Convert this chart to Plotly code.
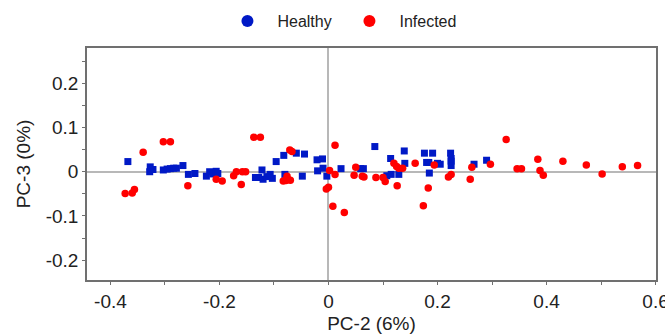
import plotly.graph_objects as go

# ---- data ----
healthy_x = [-0.368, -0.327, -0.328, -0.322, -0.303, -0.296, -0.290, -0.284, -0.279, -0.267,
             -0.257, -0.245, -0.224, -0.218, -0.212, -0.206, -0.203, -0.134, -0.128, -0.120,
             -0.122, -0.113, -0.107, -0.103, -0.096, -0.082, -0.080, -0.059, -0.044, -0.048,
             -0.021, -0.011, -0.020, -0.010, -0.003, 0.023, 0.059, 0.064, 0.085, 0.107,
             0.115, 0.114, 0.129, 0.139, 0.140, 0.176, 0.191, 0.180, 0.184, 0.185,
             0.200, 0.205, 0.224, 0.225, 0.225, 0.225, 0.267, 0.290]
healthy_y = [0.023, 0.011, 0.000, 0.005, 0.004, 0.006, 0.007, 0.008, 0.008, 0.014,
             -0.006, -0.004, -0.010, 0.000, -0.005, 0.001, -0.004, -0.013, -0.013, -0.017,
             0.004, -0.011, -0.006, -0.015, 0.023, 0.037, -0.006, 0.042, 0.040, -0.010,
             0.027, 0.029, 0.002, 0.008, -0.010, 0.007, 0.007, 0.007, 0.057, -0.009,
             -0.006, 0.030, -0.006, 0.047, 0.019, 0.042, 0.042, 0.021, 0.021, -0.003,
             0.019, 0.017, 0.042, 0.030, 0.024, 0.014, 0.017, 0.026]

infected_x = [-0.373, -0.360, -0.356, -0.340, -0.303, -0.290, -0.258, -0.206, -0.195, -0.174,
              -0.169, -0.158, -0.152, -0.160, -0.137, -0.125, -0.083, -0.076, -0.070, -0.078,
              -0.071, -0.067, 0.012, 0.002, 0.012, -0.004, 0.000, 0.008, 0.029, 0.050,
              0.047, 0.062, 0.065, 0.087, 0.100, 0.104, 0.120, 0.125, 0.136, 0.129,
              0.126, 0.159, 0.174, 0.183, 0.194, 0.220, 0.225, 0.263, 0.260, 0.297,
              0.326, 0.346, 0.354, 0.384, 0.388, 0.394, 0.430, 0.473, 0.502, 0.539, 0.567]
infected_y = [-0.049, -0.048, -0.040, 0.044, 0.068, 0.068, -0.032, -0.017, -0.021, -0.009,
              0.000, 0.000, 0.000, -0.029, 0.078, 0.078, -0.021, -0.010, -0.019, -0.020,
              0.049, 0.046, 0.060, 0.003, -0.006, -0.039, -0.035, -0.078, -0.092, 0.010,
              -0.008, -0.010, -0.012, -0.013, -0.013, -0.022, 0.019, 0.012, 0.008, 0.008,
              -0.032, 0.019, -0.077, -0.037, 0.015, -0.012, -0.006, 0.010, -0.017, 0.017,
              0.073, 0.007, 0.007, 0.028, 0.003, -0.008, 0.024, 0.015, -0.005, 0.011, 0.014]

x_tickvals = [-0.4, -0.2, 0, 0.2, 0.4, 0.6]
x_ticktext = ["-0.4", "-0.2", "0", "0.2", "0.4", "0.6"]
x_minor = [-0.3, -0.1, 0.1, 0.3, 0.5]
y_tickvals = [-0.2, -0.1, 0, 0.1, 0.2]
y_ticktext = ["-0.2", "-0.1", "0", "0.1", "0.2"]
y_minor = [-0.15, -0.05, 0.05, 0.15, 0.25]

series_names = ["Healthy", "Infected"]
BLUE = "#0019C6"
RED = "#FF0000"
FONT = "Liberation Sans, Arial, sans-serif"
AXIS_COL = "#707070"

fig = go.Figure()
fig.add_trace(go.Scatter(x=healthy_x, y=healthy_y, mode="markers", showlegend=False,
                         marker=dict(symbol="square", size=7, color=BLUE, line=dict(width=0))))
fig.add_trace(go.Scatter(x=infected_x, y=infected_y, mode="markers", showlegend=False,
                         marker=dict(symbol="circle", size=7.5, color=RED, line=dict(width=0))))
# legend entries (circles)
for name, col in zip(series_names, [BLUE, RED]):
    fig.add_trace(go.Scatter(x=[None], y=[None], mode="markers", name=name,
                             marker=dict(symbol="circle", size=12, color=col, line=dict(width=0))))

axis_common = dict(showgrid=False, showline=True, mirror=True, linecolor=AXIS_COL, linewidth=1.5,
                   ticks="outside", ticklen=3, tickcolor=AXIS_COL, tickwidth=1,
                   zeroline=True, zerolinecolor="#b8b8b8", zerolinewidth=1.5,
                   tickfont=dict(family=FONT, size=19, color="#222222"),
                   tickmode="array", ticklabeloverflow="allow")

fig.update_xaxes(range=[-0.443, 0.6008], tickvals=x_tickvals, ticktext=x_ticktext,
                 minor=dict(tickmode="array", tickvals=x_minor, ticks="outside", ticklen=3,
                            tickcolor=AXIS_COL),
                 title=dict(text="PC-2 (6%)", font=dict(family=FONT, size=19, color="#222222"),
                            standoff=6),
                 **axis_common)
fig.update_yaxes(range=[-0.245, 0.28], tickvals=y_tickvals, ticktext=y_ticktext,
                 minor=dict(tickmode="array", tickvals=y_minor, ticks="outside", ticklen=3,
                            tickcolor=AXIS_COL),
                 ticklabelstandoff=0,
                 title=dict(text="PC-3 (0%)", font=dict(family=FONT, size=19, color="#222222"),
                            standoff=10),
                 **axis_common)

fig.update_layout(
    width=665, height=336,
    margin=dict(l=87, r=9, t=48, b=56, autoexpand=False),
    paper_bgcolor="white", plot_bgcolor="white",
    legend=dict(orientation="h", xref="container", yref="container",
                x=0.327, xanchor="left", y=0.9375, yanchor="middle",
                itemwidth=50, entrywidth=57,
                font=dict(family=FONT, size=16, color="#222222")),
)

fig.write_html("out.html",
               config={"displayModeBar": False},
               post_script="document.body.style.margin='0';document.body.style.padding='0';")
